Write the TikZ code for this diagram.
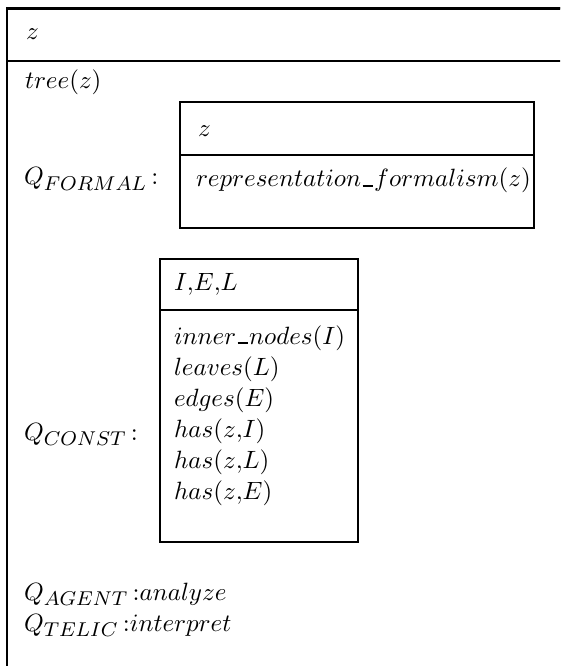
\documentclass[tikz,border=0pt]{standalone}
\DeclareMathSizes{10}{10}{8}{6}
% short underscore as in the printed attribute names
\newcommand\usc{\kern.06em\vbox{\hrule width.4em height 0.7pt}\kern.06em}
\begin{document}
\begin{tikzpicture}[x=0.4pt,y=-0.4pt,
  frame/.style={line width=0.8pt},
  lbl/.style={anchor=base west,inner sep=0pt,outer sep=0pt,font=\fontsize{10}{12}\selectfont}]
\useasboundingbox (0,0) rectangle (560,666);
\clip (0,0) rectangle (560,666);
% outer feature structure
\draw[frame] (7,700) -- (7,8.5) -- (620,8.5);
\draw[line width=1.2pt] (6.6,8.5) -- (620,8.5);
\draw[frame] (7,61) -- (620,61);
\node[lbl] (head) at (26,40) {$z$};
\node[lbl] (tree) at (25,89) {$tree(z)$};
% formal quale
\node[lbl] (qformal) at (24,185) {$Q_{FORMAL}$\,:};
\draw[frame] (180,102) rectangle (534,228);
\draw[frame] (180,155) -- (534,155);
\node[lbl] (fhead) at (198,136) {$z$};
\node[lbl] (fbody) at (196,187) {$representation\usc formalism(z)$};
% constitutive quale
\node[lbl] (qconst) at (24,440) {$Q_{CONST}$\,:};
\draw[frame] (160,259) rectangle (358,542);
\draw[frame] (160,310) -- (358,310);
\node[lbl] (chead) at (174,290) {$I{,}E{,}L$};
\node[lbl] (c1) at (174,344) {$inner\usc nodes(I)$};
\node[lbl] (c2) at (174,375) {$leaves(L)$};
\node[lbl] (c3) at (174,406) {$edges(E)$};
\node[lbl] (c4) at (174,437) {$has(z{,}I)$};
\node[lbl] (c5) at (174,468) {$has(z{,}L)$};
\node[lbl] (c6) at (174,499) {$has(z{,}E)$};
% agentive and telic qualia
\node[lbl] (qagent) at (24,600) {$Q_{AGENT}$\,:$analyze$};
\node[lbl] (qtelic) at (24,631) {$Q_{TELIC}$\,:$interpret$};
\end{tikzpicture}
\end{document}
